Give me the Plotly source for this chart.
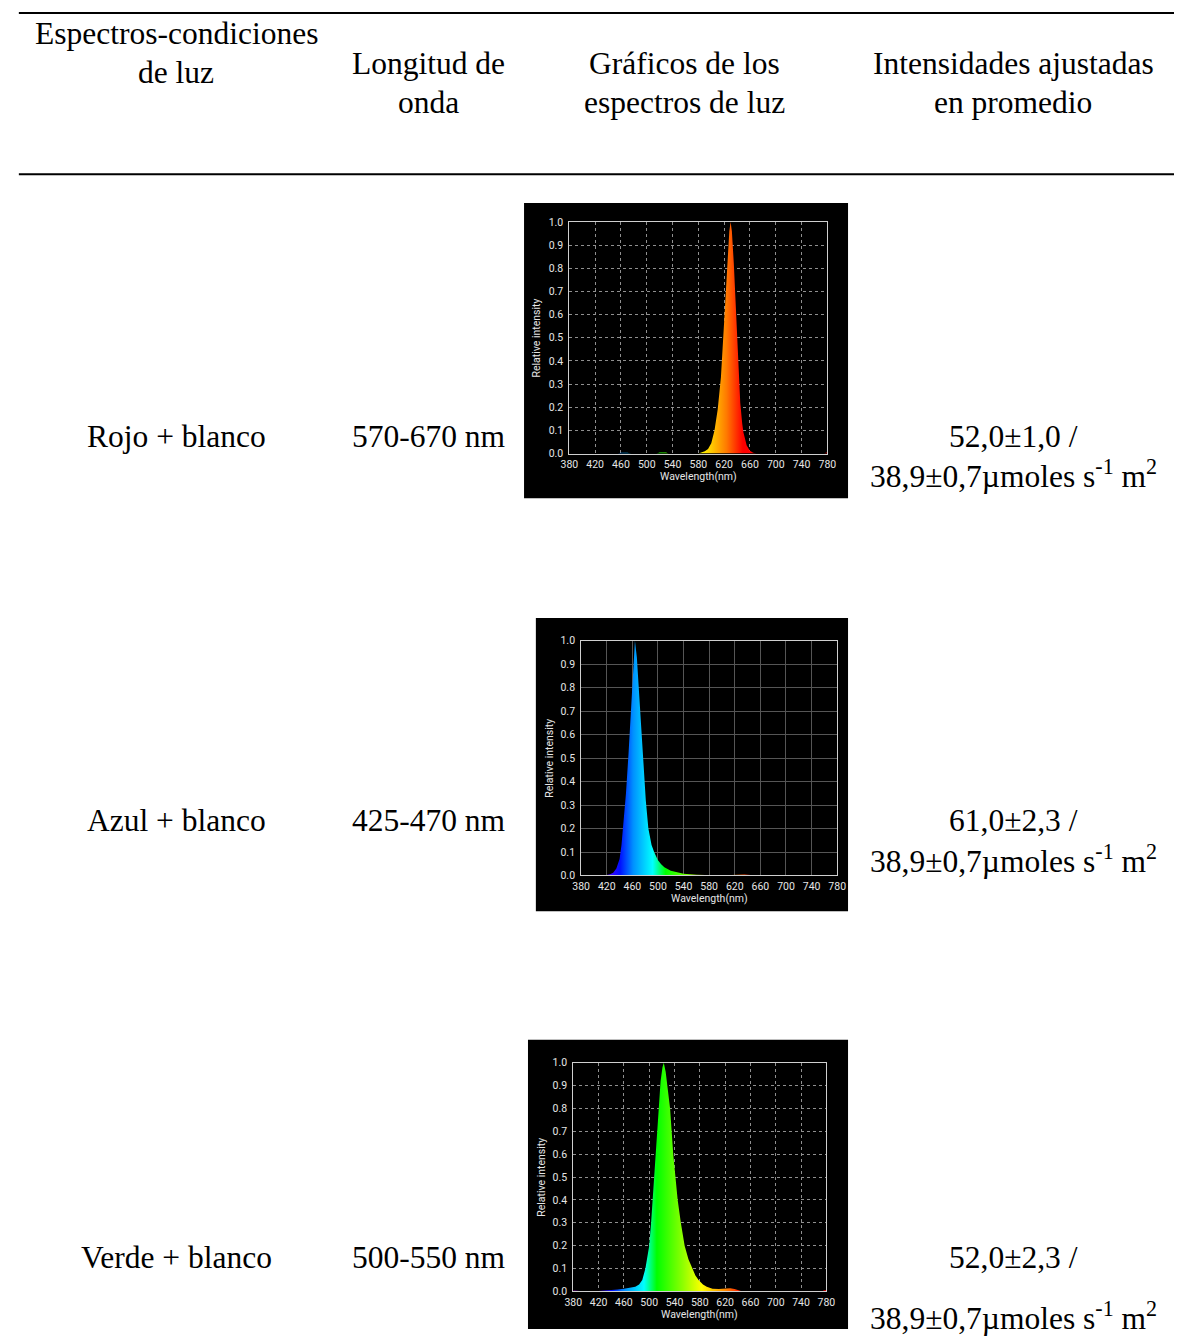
import plotly.graph_objects as go

W, H = 1183, 1339

# ---------------- table text ----------------
header_line1 = ["Espectros-condiciones", "Longitud de", "Gráficos de los", "Intensidades ajustadas"]
header_line2 = ["de luz", "onda", "espectros de luz", "en promedio"]
conditions = ["Rojo + blanco", "Azul + blanco", "Verde + blanco"]
wavelength_ranges = ["570-670 nm", "425-470 nm", "500-550 nm"]
intensity_line1 = ["52,0±1,0 /", "61,0±2,3 /", "52,0±2,3 /"]
intensity_line2 = ["38,9±0,7µmoles s<sup>-1</sup> m<sup>2</sup>"] * 3

# ---------------- spectra ----------------
red_wl = [380, 455, 460, 470, 476, 515, 520, 530, 534, 580, 590, 595, 600, 605, 610, 615, 620, 625,
          628, 630, 632, 635, 638, 640, 643, 645, 648, 650, 655, 660, 665, 670, 775, 778, 780]
red_int = [0, 0, 0.004, 0.004, 0, 0, 0.005, 0.005, 0, 0.0, 0.01, 0.02, 0.045, 0.1, 0.19, 0.33, 0.57, 0.84,
           0.96, 1.0, 0.96, 0.82, 0.64, 0.5, 0.33, 0.22, 0.13, 0.09, 0.035, 0.012, 0.004, 0.0, 0, 0.005, 0.006]

blue_wl = [380, 415, 420, 425, 430, 435, 440, 443, 446, 450, 454, 458, 461, 464, 467, 470, 474, 477,
           481, 485, 490, 494, 500, 505, 510, 520, 530, 540, 560, 580, 600, 615, 625, 635, 645, 660, 780]
blue_int = [0, 0, 0.002, 0.005, 0.012, 0.03, 0.07, 0.13, 0.22, 0.35, 0.52, 0.72, 0.88, 1.0, 0.93, 0.8, 0.64, 0.5,
            0.32, 0.2, 0.13, 0.1, 0.065, 0.048, 0.035, 0.02, 0.012, 0.007, 0.003, 0.001, 0, 0.002, 0.004, 0.004,
            0.002, 0, 0]

green_wl = [380, 385, 395, 420, 440, 450, 460, 470, 478, 484, 489, 494, 500, 503, 508, 512, 515, 518, 521,
            523, 526, 529, 533, 538, 541, 545, 550, 556, 562, 568, 573, 578, 585, 591, 600, 610, 620, 628,
            635, 645, 660, 772, 776, 780]
green_int = [0.004, 0.003, 0.001, 0.002, 0.004, 0.008, 0.012, 0.017, 0.02, 0.03, 0.05, 0.1, 0.2, 0.3, 0.5, 0.7,
             0.82, 0.92, 0.98, 1.0, 0.96, 0.9, 0.8, 0.6, 0.5, 0.4, 0.3, 0.2, 0.14, 0.1, 0.07, 0.05, 0.03, 0.02,
             0.012, 0.01, 0.012, 0.014, 0.01, 0.002, 0, 0, 0.004, 0.006]

spectra = [(red_wl, red_int), (blue_wl, blue_int), (green_wl, green_int)]

x_ticks = [380, 420, 460, 500, 540, 580, 620, 660, 700, 740, 780]
y_ticks = [0.0, 0.1, 0.2, 0.3, 0.4, 0.5, 0.6, 0.7, 0.8, 0.9, 1.0]
y_ticktext = ["0.0", "0.1", "0.2", "0.3", "0.4", "0.5", "0.6", "0.7", "0.8", "0.9", "1.0"]

# wavelength -> colour scale (380..780 nm)
spectrum_scale = [[0.0, "#8a00c8"], [0.1, "#5000ff"], [0.15, "#0010ff"], [0.2, "#0090ff"],
                  [0.275, "#00ffff"], [0.325, "#00ff00"], [0.425, "#8cff00"], [0.5, "#ffff00"],
                  [0.55, "#ffc000"], [0.6, "#ff7a00"], [0.6625, "#ff0000"], [1.0, "#ff0000"]]

# ---------------- geometry (picture pixels) ----------------
boxes = [(523, 199, 852, 497), (535, 618, 852, 914), (527, 1044, 852, 1336)]
areas = [(569, 218, 831, 452), (581, 641, 841, 878), (573, 1067, 830, 1298)]
grid_dash = ["dot", "solid", "dot"]
grid_col = ["#8f8f8f", "#555555", "#8f8f8f"]


def px(x):
    return x / W


def py(y):
    return 1 - y / H


fig = go.Figure()
shapes = []
annotations = []

CHART_FONT = "Roboto, Arial, sans-serif"
TABLE_FONT = "Liberation Serif, Times New Roman, serif"
TICK_COL = "#e6e6e6"

for i, ((wl, inten), box, area) in enumerate(zip(spectra, boxes, areas)):
    n = "" if i == 0 else str(i + 1)
    fig.add_trace(go.Scatter(
        x=wl, y=inten, mode="lines", fill="tozeroy", line=dict(width=0),
        fillgradient=dict(type="horizontal", colorscale=spectrum_scale, start=380, stop=780),
        xaxis="x" + n, yaxis="y" + n, showlegend=False, hoverinfo="skip"))
    x0, y0, x1, y1 = area
    common = dict(ticks="", showgrid=True, gridcolor=grid_col[i], griddash=grid_dash[i], gridwidth=1,
                  zeroline=False, showline=True, mirror=True, linecolor="#cfcfcf", linewidth=1,
                  tickfont=dict(family=CHART_FONT, size=10.5, color=TICK_COL), fixedrange=True)
    fig.update_layout(**{
        "xaxis" + n: dict(domain=[px(x0), px(x1)], range=[380, 780], anchor="y" + n,
                          tickvals=x_ticks, ticklabelstandoff=1, **common),
        "yaxis" + n: dict(domain=[py(y1), py(y0)], range=[0, 1], anchor="x" + n,
                          tickvals=y_ticks, ticktext=y_ticktext, ticklabelstandoff=3, **common),
    })
    bx0, by0, bx1, by1 = box
    shapes.append(dict(type="rect", xref="paper", yref="paper", x0=px(bx0), x1=px(bx1),
                       y0=py(by1), y1=py(by0), fillcolor="black", line=dict(width=0), layer="below"))
    # axis titles
    annotations.append(dict(text="Wavelength(nm)", xref="paper", yref="paper",
                            x=px((x0 + x1) / 2), y=py(y1 + 23), showarrow=False,
                            font=dict(family=CHART_FONT, size=10.5, color=TICK_COL),
                            xanchor="center", yanchor="middle"))
    annotations.append(dict(text="Relative intensity", xref="paper", yref="paper",
                            x=px(x0 - 33), y=py((y0 + y1) / 2), showarrow=False, textangle=-90,
                            font=dict(family=CHART_FONT, size=10.5, color=TICK_COL),
                            xanchor="center", yanchor="middle"))

# table rules
for yl in [7, 170]:
    shapes.append(dict(type="line", xref="paper", yref="paper", x0=px(10), x1=1,
                       y0=py(yl), y1=py(yl), line=dict(color="black", width=2)))

TS = 31.5
col_x = [170, 426, 686, 1020]
header_y1 = [28, 58, 58, 58]
header_y2 = [67, 97, 97, 97]


def cell(text, cx, cy):
    annotations.append(dict(text=text, xref="paper", yref="paper", x=px(cx), y=py(cy), showarrow=False,
                            font=dict(family=TABLE_FONT, size=TS, color="black"),
                            xanchor="center", yanchor="middle"))


for t1, t2, cx, cy1, cy2 in zip(header_line1, header_line2, col_x, header_y1, header_y2):
    cell(t1, cx, cy1)
    cell(t2, cx, cy2)

row_y = [435, 822, 1264]
line2_y = [473, 861, 1323]
for cond, wr, l1, l2, ry, ly2 in zip(conditions, wavelength_ranges, intensity_line1, intensity_line2,
                                     row_y, line2_y):
    cell(cond, col_x[0], ry)
    cell(wr, col_x[1], ry)
    cell(l1, col_x[3], ry)
    cell(l2, col_x[3], ly2)

fig.update_layout(width=W, height=H, margin=dict(l=0, r=0, t=0, b=0),
                  paper_bgcolor="white", plot_bgcolor="black",
                  shapes=shapes, annotations=annotations, showlegend=False)

# remove the default page margin so the figure sits at the window's corner
fig.write_html("out.html", config={"displayModeBar": False},
               post_script="document.body.style.margin='0px';document.body.style.overflow='hidden';")
